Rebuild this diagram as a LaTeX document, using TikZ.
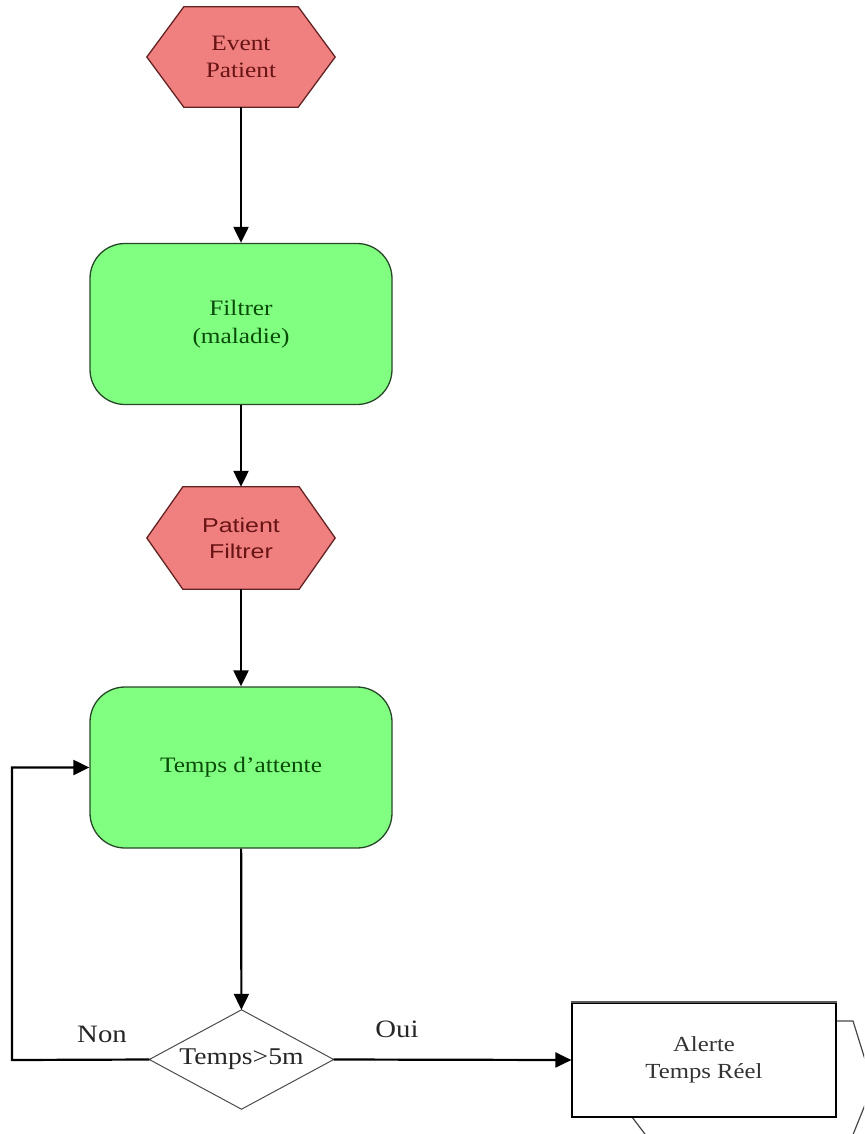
\documentclass[tikz,border=0pt]{standalone}
\usepackage{fontspec}
\setmainfont{Liberation Serif}
\newfontfamily\serifw[FakeStretch=1.15]{Liberation Serif}
\newfontfamily\sansw[FakeStretch=1.25]{Liberation Sans}
\usetikzlibrary{arrows.meta,calc,backgrounds}
\definecolor{hexfill}{RGB}{240,128,128}
\definecolor{hexline}{RGB}{100,35,35}
\definecolor{hextext}{RGB}{105,20,20}
\definecolor{grfill}{RGB}{128,255,128}
\definecolor{grline}{RGB}{40,70,40}
\definecolor{grtext}{RGB}{10,75,10}
\definecolor{dgray}{RGB}{70,70,70}
\newcommand{\hexdraw}[2]{%
  \draw[hexborder] (#1.west) -- ($(#1.north west)+(#2,0)$) -- ($(#1.north east)+(-#2,0)$) -- (#1.east) -- ($(#1.south east)+(-#2,0)$) -- ($(#1.south west)+(#2,0)$) -- cycle;}
\tikzset{
  hexa/.style={minimum width=188pt, inner sep=0pt, align=center, text=hextext},
  hexborder/.style={draw=hexline, fill=hexfill, line width=1.3pt},
  greenbox/.style={draw=grline, fill=grfill, line width=1.3pt, rounded corners=35pt,
     minimum width=302pt, minimum height=161pt, inner sep=0pt, align=center, text=grtext,
     font=\serifw\fontsize{22}{28}\selectfont},
  flow/.style={line width=2.2pt, -{Triangle[length=16pt,width=15pt]}},
  lbl/.style={font=\serifw\fontsize{25}{28}\selectfont, inner sep=0pt, text=black!85},
}
\begin{document}
\begin{tikzpicture}[x=1pt,y=-1pt]
\useasboundingbox (0,0) rectangle (864,1134);
% partial shape behind the alert box
\begin{scope}
\clip (0,0) rectangle (864,1134);
\draw[dgray, line width=1.2pt] (836,1021) -- (853,1021) -- (873,1085) -- (850,1142);
\draw[dgray, line width=1.2pt] (632,1117) -- (651,1142);
\end{scope}

\node[hexa, minimum height=100pt, font=\serifw\fontsize{22}{27}\selectfont] (ev) at (241,57) {Event\\Patient};
\node[greenbox] (f1) at (241,324) {Filtrer\\(maladie)};
\node[hexa, minimum height=102pt, font=\sansw\fontsize{20}{26}\selectfont] (pf) at (241,538) {Patient\\Filtrer};
\node[greenbox] (ta) at (241,767.5) {Temps d’attente};
\node[minimum width=184pt, minimum height=99pt, inner sep=0pt, font=\serifw\fontsize{24}{28}\selectfont, text=black!85] (dc) at (241.5,1059.5) {Temps>5m};
\node[draw=black, line width=1.2pt, fill=white, minimum width=264pt, minimum height=114pt, inner sep=0pt, align=center,
      font=\serifw\fontsize{21.5}{27}\selectfont, text=black!80] (al) at (704,1060) {Alerte\\Temps Réel};
\draw[gray!70!black, line width=2pt] (al.north west) -- (al.north east);

\begin{scope}[on background layer]
\hexdraw{ev}{37}
\hexdraw{pf}{36}
\draw[black!70, line width=1pt] (dc.north) -- (dc.east) -- (dc.south) -- (dc.west) -- cycle;
\end{scope}

\draw[flow] (ev) -- (f1);
\draw[flow] (f1) -- (pf);
\draw[flow] (pf) -- (ta);
\draw[flow] (ta) -- (dc);
\draw[flow] (dc.east) -- (al.west);
\coordinate (lb) at (12,1060);
\coordinate (lt) at (12,767.5);
\draw[flow] (dc.west) -- (lb) -- (lt) -- (ta.west);

\node[lbl] (non) at (102,1034) {Non};
\node[lbl] (oui) at (397,1029) {Oui};
\end{tikzpicture}
\end{document}
